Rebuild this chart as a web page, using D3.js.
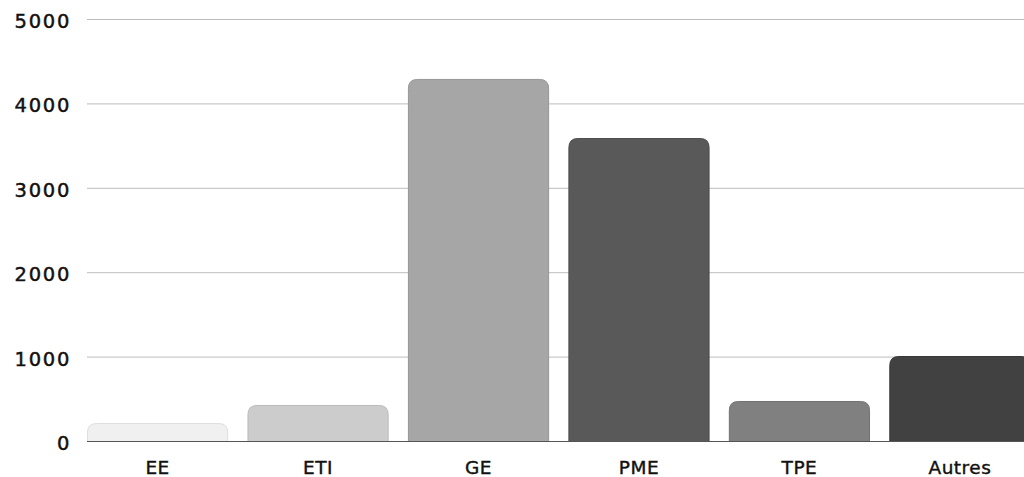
<!DOCTYPE html>
<html><head><meta charset="utf-8">
<script src="https://cdn.jsdelivr.net/npm/d3@7"></script>
<style>
html,body{margin:0;padding:0;background:#fff;overflow:hidden}
svg{display:block}
text{font-family:"DejaVu Sans",sans-serif;fill:#111}
</style></head>
<body>
<svg id="c" width="1024" height="477"></svg>
<script>
const categories = ["EE","ETI","GE","PME","TPE","Autres"];
const values = [213, 427, 4290, 3590, 474, 1007];
const colors = ["#f0f0f0","#cccccc","#a6a6a6","#595959","#808080","#414141"];
const strokes = ["#dedede","#bcbcbc","#969696","#4e4e4e","#727272","#383838"];
const yTicks = [0,1000,2000,3000,4000,5000];

const svg = d3.select("#c");
const x = d3.scaleBand().domain(categories).range([87, 1030.5]).paddingInner(0.12).paddingOuter(0);
const y = d3.scaleLinear().domain([0,5000]).range([441,19]);

// gridlines
svg.append("g").selectAll("line").data(yTicks.filter(d=>d>0)).join("line")
  .attr("x1",87).attr("x2",1024).attr("y1",d=>y(d)+0.5).attr("y2",d=>y(d)+0.5)
  .attr("stroke","#bdbdbd").attr("stroke-width",1);

// y labels
const yAxis = d3.axisLeft(y).tickValues(yTicks).tickSize(0).tickPadding(0).tickFormat(d3.format("d"));
const ga = svg.append("g").attr("transform","translate(71,1.5)").call(yAxis);
ga.select(".domain").remove();
ga.selectAll("text").attr("font-size",19.5).attr("font-weight",400).attr("fill","#111")
  .attr("stroke","#111").attr("stroke-width",0.45)
  .style("font-family",'"DejaVu Sans",sans-serif').style("letter-spacing","1.7px").attr("dy","0.36em");

function topRounded(x0,y0,w,h,r){
  r=Math.min(r,h,w/2);
  return `M${x0},${y0+h}V${y0+r}Q${x0},${y0} ${x0+r},${y0}H${x0+w-r}Q${x0+w},${y0} ${x0+w},${y0+r}V${y0+h}Z`;
}

svg.append("g").selectAll("path").data(categories).join("path")
  .attr("d",(d,i)=>topRounded(x(d)+0.5, y(values[i])+0.5, x.bandwidth()-1, y(0)-y(values[i]), 9))
  .attr("fill",(d,i)=>colors[i]).attr("stroke",(d,i)=>strokes[i]).attr("stroke-width",1);

// baseline
svg.append("line").attr("x1",87).attr("x2",1024).attr("y1",y(0)+0.5).attr("y2",y(0)+0.5)
  .attr("stroke","#555").attr("stroke-width",1);

// x labels
const xAxis = d3.axisBottom(x).tickSize(0).tickPadding(0);
const gx = svg.append("g").attr("transform","translate(0,467)").call(xAxis);
gx.select(".domain").remove();
gx.selectAll("text").attr("font-size",18.5).attr("font-weight",400).attr("fill","#111")
  .attr("stroke","#111").attr("stroke-width",0.4)
  .attr("dy","0.36em").attr("y",0)
  .style("font-family",'"DejaVu Sans",sans-serif').style("letter-spacing","0.5px");
</script>
</body></html>
